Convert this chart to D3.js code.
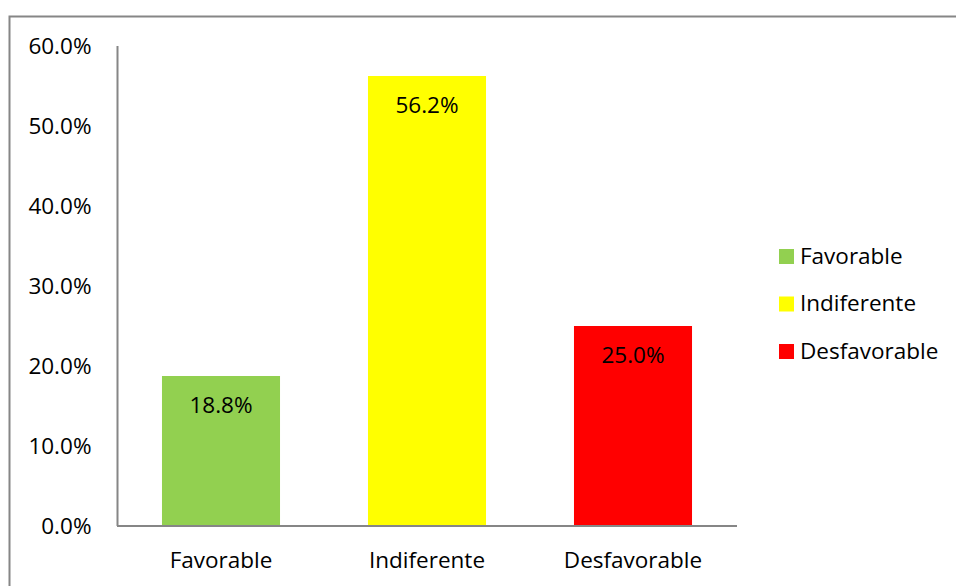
<!DOCTYPE html>
<html><head><meta charset="utf-8">
<script src="https://cdn.jsdelivr.net/npm/d3@7"></script>
<style>body{margin:0;background:#fff}svg{display:block}text{font-family:"Open Sans",sans-serif;fill:#000}</style>
</head><body><svg id="c" width="956" height="586"></svg>
<script>
const categories = ["Favorable", "Indiferente", "Desfavorable"];
const values = [0.1875, 0.5625, 0.25];
const labels = ["18.8%", "56.2%", "25.0%"];
const colors = ["#92d050", "#ffff00", "#ff0000"];
const yTicks = [0, 0.1, 0.2, 0.3, 0.4, 0.5, 0.6];
const FS = 22.5;
const FF = "'Open Sans',sans-serif";

const svg = d3.select("#c");
svg.append("rect").attr("x", 9.5).attr("y", 16.5).attr("width", 980).attr("height", 600)
  .attr("fill", "none").attr("stroke", "#868686").attr("stroke-width", 2);

const x = d3.scaleBand().domain(categories).range([118, 736]).paddingInner(0.427).paddingOuter(0.2135);
const y = d3.scaleLinear().domain([0, 0.6]).range([526, 46]);

const g = svg.append("g");
g.selectAll("rect.bar").data(categories).join("rect").attr("class", "bar")
  .attr("x", d => x(d)).attr("width", x.bandwidth())
  .attr("y", (d, i) => y(values[i])).attr("height", (d, i) => y(0) - y(values[i]))
  .attr("fill", (d, i) => colors[i]);

g.selectAll("text.val").data(categories).join("text").attr("class", "val")
  .attr("x", d => x(d) + x.bandwidth() / 2).attr("y", (d, i) => y(values[i]) + 37)
  .attr("text-anchor", "middle").attr("font-size", FS).text((d, i) => labels[i]);

// axes
const yAxis = d3.axisLeft(y).tickValues(yTicks).tickSize(0).tickPadding(26).tickFormat(d3.format(".1%"));
const ya = svg.append("g").attr("transform", "translate(117.5,0)").call(yAxis);
ya.select(".domain").attr("stroke", "#868686").attr("stroke-width", 2).attr("d", "M0,46V526");
ya.selectAll("text").attr("font-size", FS).attr("font-family", FF).attr("fill", "#000");

const xAxis = d3.axisBottom(x).tickSize(0).tickPadding(26);
const xa = svg.append("g").attr("transform", "translate(0,526)").call(xAxis);
xa.select(".domain").attr("stroke", "#868686").attr("stroke-width", 2).attr("d", "M117,0H737");
xa.selectAll("text").attr("font-size", FS).attr("font-family", FF).attr("fill", "#000");

// legend
const leg = svg.append("g");
categories.forEach((c, i) => {
  const yy = 249 + i * 47.5;
  leg.append("rect").attr("x", 779).attr("y", yy).attr("width", 15).attr("height", 15).attr("fill", colors[i]);
  leg.append("text").attr("x", 800).attr("y", yy + 14.5).attr("font-size", FS).text(c);
});
</script></body></html>
